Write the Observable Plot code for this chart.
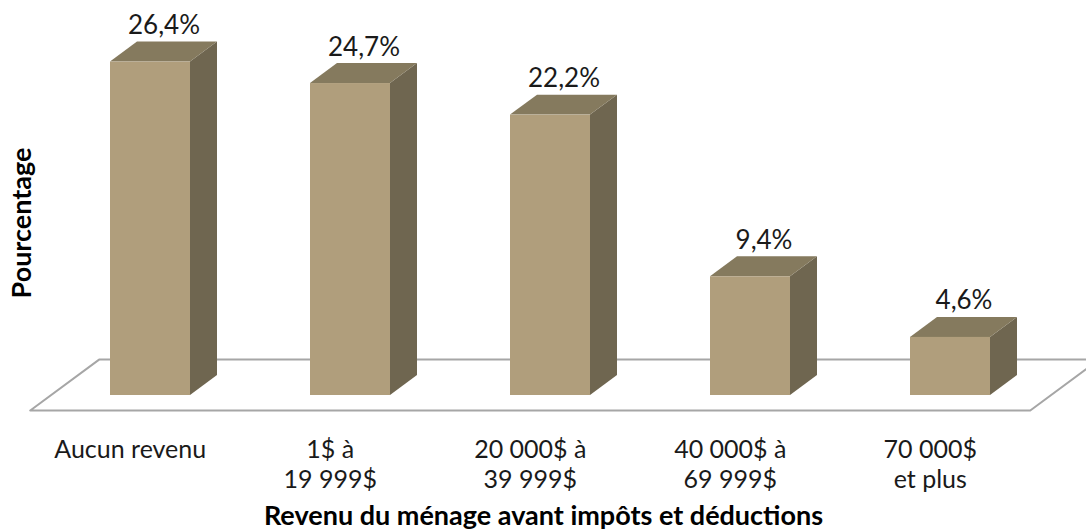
<!DOCTYPE html>
<html>
<head>
<meta charset="utf-8">
<script src="https://cdn.jsdelivr.net/npm/d3@7"></script>
<script src="https://cdn.jsdelivr.net/npm/@observablehq/plot@0.6"></script>
<style>
  html, body { margin: 0; padding: 0; background: #ffffff; }
  #chart svg { display: block; }
</style>
</head>
<body>
<div id="chart"></div>
<script>
// Household income brackets (before taxes and deductions) and their shares, in %
const categories = ["Aucun revenu", "1$ à\n19 999$", "20 000$ à\n39 999$", "40 000$ à\n69 999$", "70 000$\net plus"];
const values = [26.4, 24.7, 22.2, 9.4, 4.6];

const xTitle = "Revenu du ménage avant impôts et déductions";
const yTitle = "Pourcentage";

// Pseudo-3D look: one unit of depth shifts a point right (in category units)
// and up (in percentage points)
const DEPTH = {x: 0.135, y: 1.58};
const HALF_BAR = 0.2;            // half width of a bar's front face, in category units
const FLOOR = {z0: -0.75, z1: 1.8, left: -0.5, right: 4.5};

const colors = {front: "#b09e7c", top: "#857a5e", side: "#6f6650", floor: "#a6a6a6", text: "#1a1a1a"};
const font = "Lato, 'Open Sans', sans-serif";

const bars = values.map((v, i) => ({i, v, label: categories[i]}));
const fmt = v => v.toFixed(1).replace(".", ",") + "%";

// Side faces: parallelogram from the right edge of the front face to the back
const sides = bars.flatMap(b => [
  {bar: b.i, x: b.i + HALF_BAR, y1: 0, y2: b.v},
  {bar: b.i, x: b.i + HALF_BAR + DEPTH.x, y1: DEPTH.y, y2: b.v + DEPTH.y}
]);
// Top faces: parallelogram from the top edge of the front face to the back
const tops = bars.flatMap(b => [
  {bar: b.i, y: b.v, x1: b.i - HALF_BAR, x2: b.i + HALF_BAR},
  {bar: b.i, y: b.v + DEPTH.y, x1: b.i - HALF_BAR + DEPTH.x, x2: b.i + HALF_BAR + DEPTH.x}
]);
// Floor outline
const proj = (x, z) => ({x: x + z * DEPTH.x, y: z * DEPTH.y});
const floor = [
  proj(FLOOR.left, FLOOR.z0), proj(FLOOR.right, FLOOR.z0),
  proj(FLOOR.right, FLOOR.z1), proj(FLOOR.left, FLOOR.z1),
  proj(FLOOR.left, FLOOR.z0)
];

const chart = Plot.plot({
  width: 1086,
  height: 529,
  margin: 0,
  style: {fontFamily: font, background: "#ffffff"},
  x: {type: "linear", domain: [0, 4], range: [150, 950], axis: null},
  y: {type: "linear", domain: [0, 30], range: [395, 16.1], axis: null},
  marks: [
    Plot.line(floor, {x: "x", y: "y", stroke: colors.floor, strokeWidth: 2}),
    Plot.areaY(sides, {x: "x", y1: "y1", y2: "y2", z: "bar", fill: colors.side}),
    Plot.areaX(tops, {y: "y", x1: "x1", x2: "x2", z: "bar", fill: colors.top}),
    Plot.rect(bars, {x1: d => d.i - HALF_BAR, x2: d => d.i + HALF_BAR, y1: 0, y2: "v", fill: colors.front}),
    // Value labels above each bar
    Plot.text(bars, {
      x: d => d.i + DEPTH.x / 2, y: d => d.v + DEPTH.y,
      text: d => fmt(d.v), lineAnchor: "bottom", dy: -8,
      fontSize: 26, fill: colors.text
    }),
    // Category labels along the front edge of the floor
    Plot.text(bars, {
      x: d => d.i + FLOOR.z0 * DEPTH.x, y: FLOOR.z0 * DEPTH.y,
      text: "label", lineAnchor: "top", dy: 26, lineHeight: 1.2,
      fontSize: 25, fill: colors.text
    }),
    // Axis titles
    Plot.text([xTitle], {
      frameAnchor: "bottom", lineAnchor: "bottom", dy: -5,
      fontSize: 27, fontWeight: "bold", fill: "#000000"
    }),
    Plot.text([yTitle], {
      frameAnchor: "left", textAnchor: "middle", rotate: -90, dx: 22, dy: -42,
      fontSize: 27, fontWeight: "bold", fill: "#000000"
    })
  ]
});

document.getElementById("chart").appendChild(chart);
</script>
</body>
</html>
